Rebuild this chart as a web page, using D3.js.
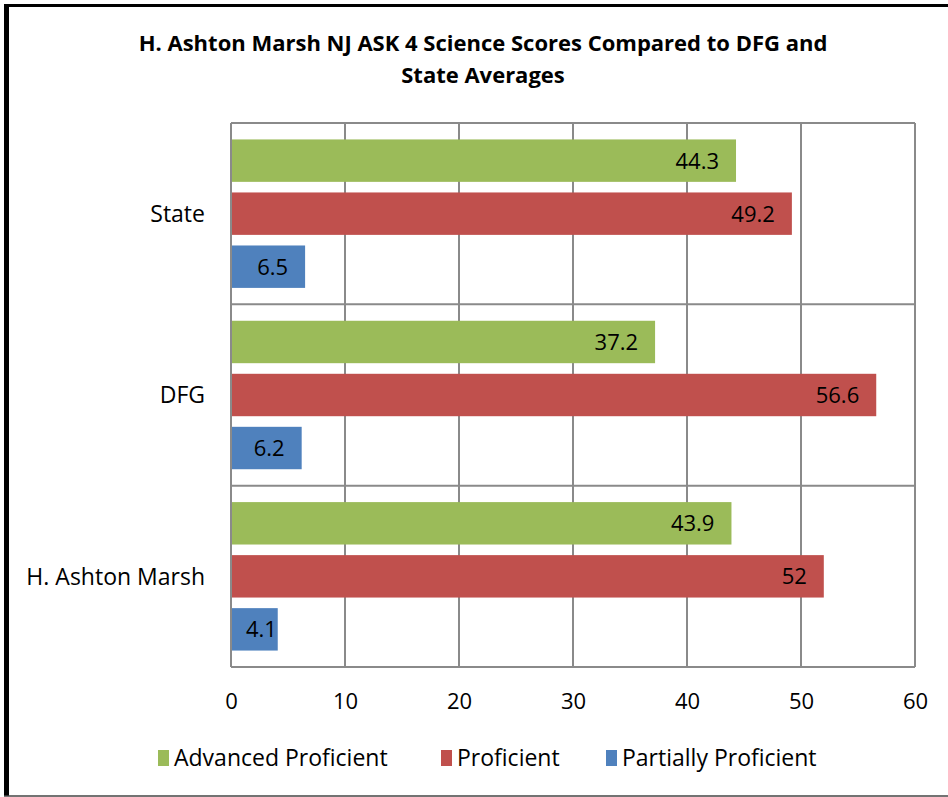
<!DOCTYPE html>
<html>
<head>
<meta charset="utf-8">
<script src="https://cdn.jsdelivr.net/npm/d3@7"></script>
<style>
  html, body { margin: 0; padding: 0; background: #fff; }
  svg { display: block; font-family: "Open Sans", "DejaVu Sans", sans-serif; }
</style>
</head>
<body>
<script>
"use strict";

// chart data
var categories = ["State", "DFG", "H. Ashton Marsh"];
var seriesNames = ["Advanced Proficient", "Proficient", "Partially Proficient"];
var advancedProficient = [44.3, 37.2, 43.9];
var proficient = [49.2, 56.6, 52];
var partiallyProficient = [6.5, 6.2, 4.1];
var xTicks = [0, 10, 20, 30, 40, 50, 60];
var titleLines = ["H. Ashton Marsh NJ ASK 4 Science Scores Compared to DFG and", "State Averages"];

var colours = ["#9BBB59", "#C0504D", "#4F81BD"];
var seriesValues = [advancedProficient, proficient, partiallyProficient];

var width = 948,
    height = 797,
    plot = { left: 231, right: 915, top: 123, bottom: 667 },
    gridColour = "#8a8a8a";

var svg = d3.select("body").append("svg")
    .attr("width", width)
    .attr("height", height);

// frame (left + top heavy, bottom thin)
svg.append("rect").attr("x", 4).attr("y", 4).attr("width", 5).attr("height", 792).attr("fill", "#000");
svg.append("rect").attr("x", 4).attr("y", 4).attr("width", 944).attr("height", 3).attr("fill", "#000");
svg.append("line").attr("x1", 4).attr("x2", 948).attr("y1", 796).attr("y2", 796)
    .attr("stroke", "#444").attr("stroke-width", 1.5);

// title
svg.append("text")
    .attr("text-anchor", "middle")
    .style("font-weight", "bold")
    .style("font-size", "22px")
    .selectAll("tspan")
    .data(titleLines)
    .enter().append("tspan")
    .attr("x", 483)
    .attr("y", function (d, i) { return 51 + i * 32; })
    .text(function (d) { return d; });

var x = d3.scaleLinear().domain([0, 60]).range([plot.left, plot.right]);
var y = d3.scaleBand().domain(categories).range([plot.top, plot.bottom]);
var ySeries = d3.scaleBand().domain(seriesNames).range([0, y.bandwidth()])
    .paddingInner(0.2).paddingOuter(0.31);

// vertical gridlines
svg.append("g").selectAll("line")
    .data(xTicks)
    .enter().append("line")
    .attr("x1", function (d) { return x(d); })
    .attr("x2", function (d) { return x(d); })
    .attr("y1", plot.top)
    .attr("y2", plot.bottom)
    .attr("stroke", gridColour)
    .attr("stroke-width", 2);

// horizontal category separators
svg.append("g").selectAll("line")
    .data(categories.concat(["end"]))
    .enter().append("line")
    .attr("x1", plot.left)
    .attr("x2", plot.right)
    .attr("y1", function (d, i) { return i < categories.length ? y(d) : plot.bottom; })
    .attr("y2", function (d, i) { return i < categories.length ? y(d) : plot.bottom; })
    .attr("stroke", gridColour)
    .attr("stroke-width", 2);

// bars
var rows = [];
categories.forEach(function (c, ci) {
    seriesNames.forEach(function (s, si) {
        rows.push({ category: c, series: s, si: si, value: seriesValues[si][ci] });
    });
});

svg.append("g").selectAll("rect")
    .data(rows)
    .enter().append("rect")
    .attr("x", x(0) + 1)
    .attr("y", function (d) { return y(d.category) + ySeries(d.series); })
    .attr("width", function (d) { return x(d.value) - x(0) - 1; })
    .attr("height", ySeries.bandwidth())
    .attr("fill", function (d) { return colours[d.si]; });

// value labels, inside end (kept clear of the axis when the bar is short)
svg.append("g").selectAll("text")
    .data(rows)
    .enter().append("text")
    .attr("y", function (d) { return y(d.category) + ySeries(d.series) + ySeries.bandwidth() / 2; })
    .attr("dy", "0.36em")
    .attr("text-anchor", "start")
    .style("font-size", "22px")
    .attr("fill", "#000")
    .text(function (d) { return d.value; })
    .attr("x", function (d) {
        var w = this.getComputedTextLength();
        return Math.max(x(d.value) - 17 - w, x(0) + 15);
    });

// category labels
svg.append("g").selectAll("text")
    .data(categories)
    .enter().append("text")
    .attr("x", 205)
    .attr("y", function (d) { return y(d) + y.bandwidth() / 2; })
    .attr("dy", "0.36em")
    .attr("text-anchor", "end")
    .style("font-size", "23px")
    .text(function (d) { return d; });

// x axis labels
var xAxis = d3.axisBottom(x).tickValues(xTicks).tickSize(0).tickPadding(26);
var gx = svg.append("g")
    .attr("transform", "translate(0," + plot.bottom + ")")
    .call(xAxis);
gx.select(".domain").remove();
gx.selectAll("text")
    .style("font-size", "22px")
    .style("font-family", "\"Open Sans\", sans-serif")
    .attr("fill", "#000");

// legend
var legendX = [158, 441, 606];
var legend = svg.append("g").selectAll("g")
    .data(seriesNames)
    .enter().append("g")
    .attr("transform", function (d, i) { return "translate(" + legendX[i] + ",750)"; });
legend.append("rect")
    .attr("width", 11)
    .attr("height", 16)
    .attr("fill", function (d, i) { return colours[i]; });
legend.append("text")
    .attr("x", 16)
    .attr("y", 8)
    .attr("dy", "0.36em")
    .style("font-size", "23px")
    .text(function (d) { return d; });
</script>
</body>
</html>
